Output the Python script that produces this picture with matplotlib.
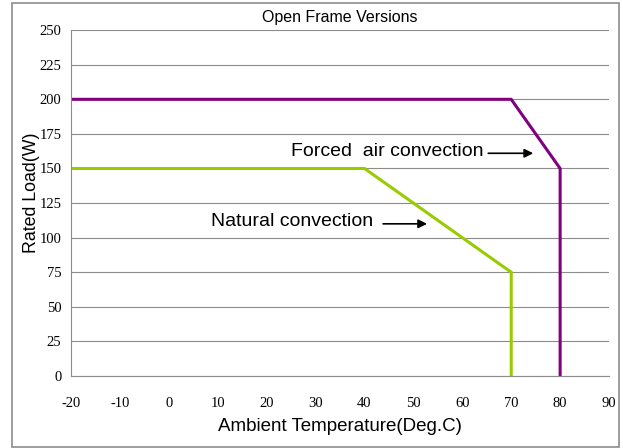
import matplotlib
matplotlib.use("Agg")
import matplotlib.pyplot as plt
from matplotlib.patches import Rectangle

# derating curves
forced_temp = [-20, 70, 80, 80]
forced_load = [200, 200, 150, 0]
natural_temp = [-20, 40, 70, 70]
natural_load = [150, 150, 75, 0]

x_ticks = [-20, -10, 0, 10, 20, 30, 40, 50, 60, 70, 80, 90]
y_ticks = [0, 25, 50, 75, 100, 125, 150, 175, 200, 225, 250]

plt.rcParams["axes.unicode_minus"] = False

fig = plt.figure(figsize=(6.23, 4.48), dpi=100)
ax = fig.add_axes([0.114, 0.1607, 0.8636, 0.772])

# grey frame round the whole chart
fig.patches.append(Rectangle((0.0193, 0.002), 0.974, 0.991, transform=fig.transFigure,
                             fill=False, edgecolor="#8c8c8c", linewidth=1.2))

ax.set_xlim(-20, 90)
ax.set_ylim(0, 250)
ax.set_xticks(x_ticks)
ax.set_yticks(y_ticks)
ax.tick_params(length=0, labelsize=10.5)
ax.tick_params(axis="x", pad=15)
ax.tick_params(axis="y", pad=7)
for lab in ax.get_xticklabels() + ax.get_yticklabels():
    lab.set_fontfamily("Liberation Serif")

ax.grid(axis="y", color="#8c8c8c", linewidth=0.8)
ax.set_axisbelow(True)
for side in ["top", "right"]:
    ax.spines[side].set_visible(False)
for side in ["left", "bottom"]:
    ax.spines[side].set_color("#8c8c8c")
    ax.spines[side].set_linewidth(0.8)

ax.plot(forced_temp, forced_load, color="#800080", linewidth=2.2, solid_joinstyle="miter")
ax.plot(natural_temp, natural_load, color="#99CC00", linewidth=2.2, solid_joinstyle="miter")

font = "Liberation Sans"
ax.set_title("Open Frame Versions", fontsize=11.5, fontfamily=font, pad=6)
ax.set_xlabel("Ambient Temperature(Deg.C)", fontsize=13.5, fontfamily=font)
ax.xaxis.label.set_va("center")
ax.xaxis.set_label_coords(0.5, -0.147)
ax.set_ylabel("Rated Load(W)", fontsize=12.8, fontfamily=font)
ax.yaxis.label.set_va("center")
ax.yaxis.set_label_coords(-0.0743, 0.53)

arrow = dict(arrowstyle="-|>", color="black", linewidth=1.2, mutation_scale=13,
             shrinkA=0, shrinkB=0)
ax.annotate("", xy=(74.5, 161), xytext=(65.3, 161), arrowprops=arrow)
ax.text(64.3, 162, "Forced  air convection", fontsize=14, fontfamily=font,
        ha="right", va="center")
ax.annotate("", xy=(52.8, 110), xytext=(43.8, 110), arrowprops=arrow)
ax.text(41.8, 112, "Natural convection", fontsize=14, fontfamily=font,
        ha="right", va="center")

fig.savefig("out.png", dpi=100)
